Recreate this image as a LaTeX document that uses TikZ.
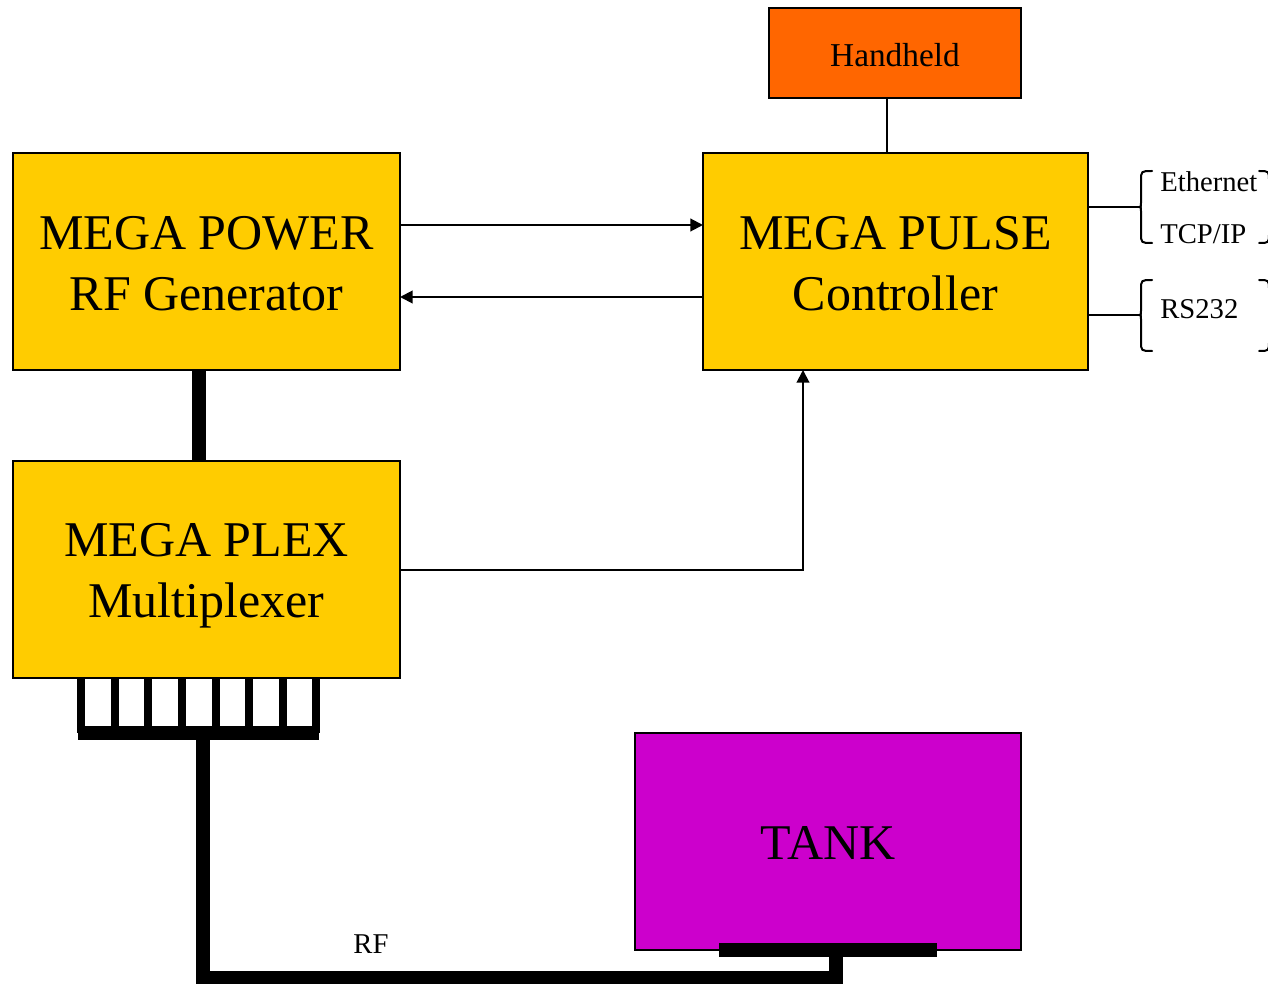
\documentclass[tikz,border=0pt]{standalone}
\usepackage{fontspec}
\setmainfont{Liberation Serif}
\usetikzlibrary{arrows.meta}
\definecolor{gold}{HTML}{FFCC00}
\definecolor{orng}{HTML}{FF6600}
\definecolor{mgnt}{HTML}{CC00CC}
\begin{document}
\begin{tikzpicture}[x=0.75pt,y=-0.75pt,
  box/.style={draw=black,line width=1.8pt,inner sep=0pt,outer sep=0pt,align=center},
  bigbox/.style={box,fill=gold,minimum width=290.25pt,minimum height=162.75pt},
  bigtext/.style={inner sep=0pt,align=center,font=\fontsize{37.5pt}{45.75pt}\selectfont},
  conn/.style={line width=1.5pt},
  arr/.style={conn,-{Triangle[length=9.5pt,width=9.5pt]}},
  thick cable/.style={line width=10.5pt,line join=miter,line cap=butt},
  lbl/.style={font=\fontsize{21.5pt}{24pt}\selectfont,inner sep=0pt,anchor=west},
  brace line/.style={line width=1.5pt,line cap=round}]
\useasboundingbox (0,0) rectangle (1268,984);
\clip (0,0) rectangle (1268,984);

% boxes
\node[box,fill=orng,minimum width=189pt,minimum height=67.5pt] (hand) at (895,53) {};
\node[inner sep=0pt,font=\fontsize{25pt}{28pt}\selectfont] (handtxt) at (895,55) {Handheld};
\node[bigbox] (power) at (206.5,261.5) {};
\node[bigtext] (powertxt) at (206.5,264) {MEGA POWER\\RF Generator};
\node[bigbox,minimum width=288.75pt] (pulse) at (895.5,261.5) {};
\node[bigtext] (pulsetxt) at (895.5,264) {MEGA PULSE\\Controller};
\node[bigbox] (plex) at (206.5,569.5) {};
\node[bigtext] (plextxt) at (206.5,576) {MEGA PLEX\\Multiplexer};
\node[box,fill=mgnt,minimum width=289.5pt,minimum height=162.75pt] (tank) at (828,841.5) {};
\node[bigtext] (tanktxt) at (828,843) {TANK};

% helper coordinates
\coordinate (hx) at (887,0);
\coordinate (y1) at (0,225);
\coordinate (y2) at (0,297);
\coordinate (px) at (803,0);
\coordinate (tx) at (199,0);
\coordinate (ye) at (0,207);
\coordinate (yr) at (0,315);
\coordinate (be) at (1140,0);

% connectors
\draw[conn] (hand.south -| hx) -- (pulse.north -| hx);
\draw[arr] (power.east |- y1) -- (pulse.west |- y1);
\draw[arr] (pulse.west |- y2) -- (power.east |- y2);
\draw[arr] (plex.east) -| (pulse.south -| px);
\draw[thick cable] (power.south -| tx) -- (plex.north -| tx);

% side links to braces
\draw[conn] (pulse.east |- ye) -- (be |- ye);
\draw[conn] (pulse.east |- yr) -- (be |- yr);

% braces (left)
\draw[brace line] (1152,171) .. controls (1141,171) .. (1141,181) -- (1141,202)
  .. controls (1141,207) .. (1139,207) .. controls (1141,207) .. (1141,212)
  -- (1141,233) .. controls (1141,243) .. (1152,243);
\draw[brace line] (1152,280) .. controls (1141,280) .. (1141,290) -- (1141,310)
  .. controls (1141,315) .. (1139,315) .. controls (1141,315) .. (1141,320)
  -- (1141,341) .. controls (1141,351) .. (1152,351);
% braces (right, cut by the edge)
\draw[brace line] (1259,171) .. controls (1269,171) .. (1269,181) -- (1269,233)
  .. controls (1269,243) .. (1259,243);
\draw[brace line] (1259,280) .. controls (1269,280) .. (1269,290) -- (1269,341)
  .. controls (1269,351) .. (1259,351);

\node[lbl] (eth) at (1160,182) {Ethernet};
\node[lbl] (tcp) at (1160,234) {TCP/IP};
\node[lbl] (rs) at (1160,309) {RS232};

% multiplexer comb
\foreach \xx in {81,114.5,148,181.5,215.5,249,282.5,316}{
  \draw[line width=6pt] (\xx,678) -- (\xx,733);
}
\draw[line width=11pt] (78,733) -- (319,733);

% RF cable
\coordinate (c1) at (203,733);
\coordinate (c2) at (203,978);
\coordinate (c3) at (836,978);
\coordinate (c4) at (836,950);
\draw[thick cable] (c1) -- (c2) -- (c3) -- (c4);
\draw[line width=11pt] (719,950) -- (937,950);

\node[font=\fontsize{21.5pt}{24pt}\selectfont,inner sep=0pt] (rf) at (371,944) {RF};
\end{tikzpicture}
\end{document}
